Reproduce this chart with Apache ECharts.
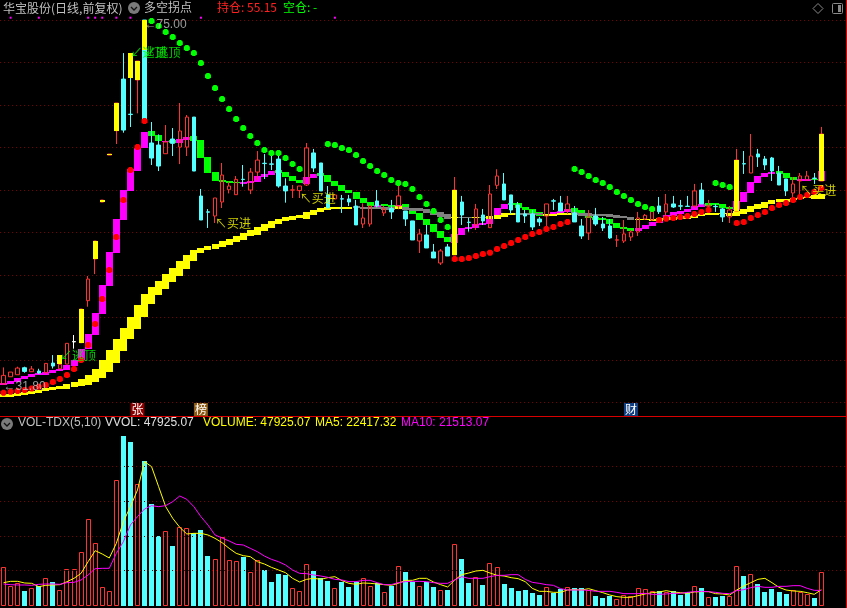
<!DOCTYPE html>
<html><head><meta charset="utf-8">
<style>html,body{margin:0;padding:0;background:#000}#c{width:847px;height:608px}</style>
<script src="https://cdn.jsdelivr.net/npm/echarts@6/dist/echarts.min.js"></script>
</head><body><div id="c"></div>
<script>
const dayLabels = Array.from({length:120},(_,i)=>String(i+1));
// [open, close, low, high]
const candles = [
[32.17,33.19,32.17,34.13],[33.03,33.58,33.03,33.58],[33.27,34.05,33.27,34.21],[34.09,33.66,33.5,34.21],[33.62,33.94,33.62,34.29],
[33.7,33.46,33.35,33.97],[33.5,34.6,33.5,34.6],[34.64,34.29,34.0,35.58],[33.97,34.49,33.97,34.49],[34.52,36.96,34.52,36.96],
[37.13,37.17,36.33,37.94],[37.03,41.0,37.03,41.0],[41.98,44.52,41.27,44.88],[46.88,49.0,45.11,49.0],[53.58,53.82,53.58,53.82],
[59.11,59.23,59.11,59.23],[61.98,65.23,60.41,65.23],[68.05,62.05,61.74,71.11],[63.92,63.88,62.41,71.11],[67.94,70.17,64.02,70.17],
[75,63.31,63.31,75],[60.53,58.76,57.94,63.0],[60.29,57.82,57.23,61.54],[59.27,60.64,59.27,62.64],[61.0,60.49,59.0,62.29],
[60.05,61.94,58.05,65.23],[60.05,63.58,59.0,63.82],[63.58,57.23,57.23,63.58],[54.29,51.47,51.47,55.12],[52.43,52.39,50.53,52.76],
[51.94,54.06,51.12,54.06],[53.59,56.76,52.88,58.18],[55.03,55.47,54.6,55.98],[54.45,56.25,54.45,56.64],[56.27,56.23,55.39,57.94],
[55.0,57.11,54.52,57.58],[57.11,58.52,56.17,59.58],[58.15,58.11,56.29,59.23],[58.07,58.03,57.35,59.11],[58.64,55.47,55.27,59.62],
[55.47,54.89,53.51,56.38],[54.98,55.02,54.06,55.59],[54.93,55.47,54.06,55.47],[55.59,59.95,55.47,60.53],[59.36,57.59,57.12,59.83],
[58.18,54.89,54.89,58.18],[54.42,52.89,52.89,55.47],[53.95,54.42,53.95,54.42],[53.97,53.93,52.3,54.42],[53.95,53.59,53.12,54.42],
[53.12,50.89,50.89,53.83],[51.0,51.71,50.53,53.43],[51.0,53.12,50.69,53.12],[53.71,53.12,52.96,55.0],[52.3,52.77,51.94,53.12],
[52.81,52.42,51.59,53.83],[53.12,54.3,52.73,55.59],[52.53,51.59,50.77,52.53],[51.36,49.12,49.12,51.36],[49.0,49.83,47.59,50.42],
[49.71,48.18,48.18,50.89],[47.71,47.0,47.0,48.65],[46.41,47.83,46.18,48.06],[48.3,47.24,47.24,48.65],[47.36,55.0,47.36,56.53],
[53.59,52.06,50.89,54.3],[51.22,51.18,50.1,51.71],[50.89,52.77,50.3,53.36],[52.06,51.36,50.89,52.77],[50.57,54.53,50.57,55.59],
[55.55,56.65,55.12,57.44],[55.71,53.83,53.83,57.0],[54.42,52.65,52.18,54.42],[53.24,51.24,51.24,53.59],[52.18,51.94,51.12,52.65],
[52.18,50.65,50.3,52.65],[51.59,51.24,50.77,51.83],[51.94,53.36,50.77,53.36],[53.73,53.69,52.65,53.95],[53.47,52.53,52.53,54.3],
[52.65,53.36,52.18,54.3],[52.3,51.24,51.24,53.12],[50.77,49.59,49.24,51.59],[49.94,51.83,49.12,52.65],[51.94,51.0,50.77,52.89],
[51.0,50.53,50.18,51.83],[50.77,49.36,49.24,51.59],[49.1,49.14,48.3,49.71],[49.0,49.83,48.77,51.47],[49.47,50.06,49.0,50.3],
[50.06,51.71,49.59,52.42],[51.59,52.02,51.47,52.18],[51.47,52.65,51.36,52.85],[53.12,52.45,52.18,54.18],[52.42,53.36,51.71,54.53],
[53.36,53.0,52.89,54.3],[53.14,53.1,52.65,53.83],[53.1,53.06,53.0,54.3],[53.12,54.89,52.89,55.71],[55.0,53.36,53.36,55.83],
[53.1,53.14,52.42,53.83],[53.08,53.04,52.42,53.36],[52.77,51.83,51.24,52.89],[51.83,52.65,51.12,53.12],[52.53,58.53,52.53,59.83],
[58.1,58.06,56.89,59.59],[57.0,59.0,57.0,61.59],[59.24,58.89,57.71,59.83],[58.65,57.95,57.36,59.0],[58.77,57.24,56.06,58.89],
[57.0,55.59,55.59,57.83],[56.3,54.89,54.3,56.3],[54.65,55.71,54.18,56.53],[56.06,56.65,54.53,57.0],[56.18,56.65,56.18,57.24],
[56.4,56.36,55.71,57.0],[56.06,61.59,56.06,62.42]
];
const whiteDojiDays = [10];
// [day, top, bottom]
const yellowSticks = [[8,35.58,34.56],[11,41.0,37.03],[13,49.0,46.88],[14,53.82,53.58],[15,59.23,59.11],[16,65.23,61.98],[18,71.11,68.17],[19,70.17,67.94],[20,75,71.47],[64,55.0,47.36],[104,58.53,52.53],[116,61.59,56.06]];
// [top, bottom, kind]
const upperBand = [
[32.33,32.09,'M'],[32.48,32.17,'M'],[32.88,32.45,'M'],[33.11,32.76,'M'],[33.35,33.0,'M'],[33.5,33.27,'M'],[33.58,33.23,'M'],[33.82,33.46,'M'],[33.97,33.7,'M'],[34.41,33.82,'M'],
[35.0,34.29,'M'],[36.29,35.0,'M'],[38.05,36.29,'M'],[40.52,37.94,'M'],[43.82,40.41,'M'],[47.7,43.7,'M'],[51.58,47.58,'M'],[55,51.47,'M'],[57.47,54.88,'M'],[59.98,57.23,'M'],
[61.82,59.94,'M'],[61.94,61.35,'G'],[61.47,60.76,'G'],[60.76,60.6,'M'],[60.88,60.49,'G'],[61.0,60.53,'M'],[61.23,60.88,'M'],[61.35,60.76,'G'],[60.88,58.76,'G'],[58.88,57.0,'G'],
[57.11,56.05,'G'],[56.17,55.94,'G'],[56.05,55.82,'G'],[55.94,55.82,'G'],[55.98,55.7,'M'],[56.05,55.82,'M'],[56.64,55.94,'M'],[56.88,56.52,'M'],[57.23,56.76,'M'],[57.35,57.0,'G'],
[57.12,56.53,'G'],[56.65,56.06,'G'],[56.18,55.83,'G'],[56.53,55.71,'M'],[56.89,56.42,'M'],[57.0,56.65,'G'],[56.77,55.95,'G'],[56.06,55.47,'G'],[55.59,54.89,'G'],[55.0,54.65,'G'],
[54.77,53.95,'G'],[54.06,53.47,'G'],[53.59,53.12,'G'],[53.24,53.0,'M'],[53.36,53.12,'G'],[53.24,53.0,'G'],[53.24,53.0,'M'],[53.36,52.89,'G'],[52.73,52.18,'G'],[52.3,51.47,'G'],
[51.59,50.89,'G'],[51.0,50.06,'G'],[50.18,49.36,'G'],[49.47,48.89,'G'],[49.79,48.77,'M'],[50.53,49.71,'M'],[50.65,50.42,'M'],[51.0,50.53,'M'],[51.12,50.89,'M'],[51.59,51.0,'M'],
[52.89,52.06,'M'],[53.36,52.77,'M'],[53.47,53.24,'G'],[53.43,52.89,'G'],[53.0,52.65,'G'],[52.77,52.3,'G'],[52.42,51.94,'G'],[52.14,51.87,'M'],[52.42,52.18,'M'],[52.53,52.3,'M'],
[52.77,52.45,'M'],[52.85,52.42,'G'],[52.65,52.3,'G'],[52.06,51.71,'G'],[51.83,51.47,'G'],[51.75,51.47,'G'],[51.59,51.0,'G'],[51.12,50.53,'G'],[50.65,50.38,'G'],[50.53,50.18,'G'],
[50.53,50.18,'M'],[50.89,50.42,'M'],[51.24,50.77,'M'],[51.59,51.12,'M'],[52.06,51.59,'M'],[52.42,51.94,'M'],[52.53,52.18,'M'],[52.77,52.42,'M'],[53.12,52.65,'M'],[53.36,53.0,'M'],
[53.43,53.12,'G'],[53.47,53.2,'G'],[53.36,52.89,'G'],[53.0,52.77,'G'],[53.71,52.65,'M'],[54.77,53.59,'M'],[55.95,54.65,'M'],[56.65,55.83,'M'],[57.0,56.53,'M'],[57.12,56.89,'M'],
[57.24,56.89,'G'],[57.0,56.42,'G'],[56.53,56.18,'G'],[56.3,56.06,'M'],[56.3,56.06,'M'],[56.3,56.18,'G'],[57.24,56.06,'M']
];
const lowerBand = [
[30.96,30.64,'Y'],[31.03,30.68,'Y'],[31.15,30.76,'Y'],[31.27,30.96,'Y'],[31.39,31.07,'Y'],[31.46,31.15,'Y'],[31.66,31.27,'Y'],[31.78,31.46,'Y'],[31.97,31.58,'Y'],[32.17,31.58,'Y'],
[32.41,31.86,'Y'],[32.76,31.97,'Y'],[33.23,32.05,'Y'],[33.94,32.45,'Y'],[35.0,32.92,'Y'],[36.17,33.58,'Y'],[37.47,34.64,'Y'],[38.76,36.05,'Y'],[40.05,37.47,'Y'],[41.47,38.64,'Y'],
[42.76,40.05,'Y'],[43.58,41.58,'Y'],[44.29,42.64,'Y'],[45.11,43.35,'Y'],[45.82,44.17,'Y'],[46.64,44.88,'Y'],[47.35,45.7,'Y'],[47.94,46.64,'Y'],[48.17,47.58,'Y'],[48.41,47.94,'Y'],
[48.64,48.05,'Y'],[49.0,48.29,'Y'],[49.23,48.53,'Y'],[49.58,48.88,'Y'],[49.94,49.11,'Y'],[50.29,49.58,'Y'],[50.64,49.7,'Y'],[51.0,50.17,'Y'],[51.35,50.53,'Y'],[51.58,51.0,'Y'],
[51.79,51.36,'Y'],[51.94,51.51,'Y'],[52.06,51.71,'Y'],[52.42,51.59,'Y'],[52.65,52.06,'Y'],[52.89,52.42,'Y'],[52.96,52.65,'Y'],[53.0,52.77,'Y'],[53.0,52.77,'Y'],[53.0,52.77,'Y'],
[53.12,52.89,'S'],[53.0,52.77,'S'],[53.0,52.77,'S'],[53.0,52.77,'S'],[53.04,52.65,'S'],[53.0,52.69,'S'],[53.12,52.73,'Y'],[52.96,52.65,'S'],[52.89,52.57,'S'],[52.85,52.49,'S'],
[52.73,52.26,'S'],[52.57,52.06,'S'],[52.42,51.79,'S'],[52.18,51.59,'S'],[51.79,51.67,'Y'],[51.83,51.71,'S'],[51.83,51.71,'S'],[51.83,51.71,'Y'],[51.83,51.71,'S'],[51.94,51.55,'Y'],
[52.06,51.59,'Y'],[52.26,51.83,'Y'],[52.3,52.06,'Y'],[52.34,52.06,'S'],[52.26,52.06,'S'],[52.26,52.06,'S'],[52.26,52.06,'S'],[52.18,51.94,'Y'],[52.18,51.94,'Y'],[52.3,52.06,'Y'],
[52.34,52.06,'Y'],[52.42,52.06,'S'],[52.34,51.98,'S'],[52.26,51.94,'S'],[52.18,51.94,'S'],[52.14,51.91,'S'],[52.18,51.87,'S'],[52.06,51.75,'S'],[51.94,51.67,'S'],[51.83,51.47,'S'],
[51.63,51.51,'Y'],[51.63,51.51,'Y'],[51.63,51.4,'Y'],[51.71,51.36,'Y'],[51.79,51.47,'Y'],[51.87,51.55,'Y'],[51.94,51.63,'Y'],[51.94,51.63,'Y'],[52.06,51.75,'Y'],[52.18,51.94,'Y'],
[52.26,52.02,'Y'],[52.26,52.06,'Y'],[52.26,52.1,'Y'],[52.34,51.94,'Y'],[52.57,51.94,'Y'],[52.73,52.14,'Y'],[53.12,52.42,'Y'],[53.36,52.73,'Y'],[53.63,52.96,'Y'],[53.83,53.36,'Y'],
[53.95,53.55,'Y'],[53.98,53.67,'Y'],[54.02,53.79,'Y'],[54.14,53.91,'Y'],[54.26,53.98,'Y'],[54.42,53.98,'Y'],[54.53,53.91,'Y']
];
// [first day, prices of the run]
const redDotRuns = [
[0,[31.15,31.27,31.35,31.46,31.66,31.86,32.05,32.41,32.76,33.23,33.94,35.0,36.76,39.23,42.17,45.58,49.47,53.82,57.35,60.05,63.11]],
[64,[46.89,46.89,47.0,47.24,47.47,47.63,48.06,48.41,48.77,49.12,49.47,49.83,50.06,50.42,50.65,51.0,51.24]],
[93,[51.47,51.63,51.71,51.83,51.94,52.18,52.42,52.65]],
[104,[51.12,51.24,51.71,52.06,52.42,52.89,53.24,53.47,53.83,54.18,54.42,54.77,55.24]]
];
const greenDotRuns = [
[21,[74.88,74.29,73.58,73.0,72.29,71.7,71.11,69.94,68.41,67.0,65.7,64.53,63.35,62.29,61.35,60.52,59.7,59.35,59.35,58.77,58.06,57.47]],
[46,[60.42,60.3,59.95,59.71,59.12,58.42,57.83,57.24,56.77,56.18,55.83,55.71,55.12,54.18,53.36,52.53,51.47,50.65]],
[81,[57.47,57.12,56.65,56.18,55.83,55.36,54.77,54.3,53.83,53.36,53.0,52.77]],
[101,[55.83,55.59,55.36]]
];
const topMarkDays = [1,5,12,13,14,16,18,28,47];
const topMarkPrice = 75.27;
const buyLabels = [[30,51.12],[42,54.06],[113,55.0]];
const escapeLabels = [[18,71.15],[20,71.15],[8,35.59]];
const priceNotes = [[20,74.41,'←75.00'],[0,31.82,'←31.80']];
const eventBadges = [[19,'张','#8b0000'],[28,'榜','#8b5a14'],[89,'财','#0f3f80']];
const badgePrice = 29.18;
const volumes = [54800,27400,32200,20600,24500,27400,38900,33200,21600,51900,51900,76400,124000,89400,26000,20200,180200,244100,235500,174900,208100,146100,99900,106700,85500,112500,111000,103800,108600,71100,66300,98100,64900,63400,69600,47600,64900,50900,33600,45100,43700,24500,20200,59100,49500,39400,35000,24500,33600,26400,33600,38900,27400,32200,18700,27800,56200,48000,33600,27400,33600,26400,21600,22100,88000,66800,32200,40400,29300,60600,54800,30700,24900,20600,22100,17700,14900,26000,17700,23500,26000,24900,24900,21600,13400,10500,13400,8700,14400,13000,24500,23100,20200,20200,18700,20200,14900,18700,27400,24500,11500,11500,13000,13000,56200,42300,44700,30300,18700,23100,18700,15900,21600,18700,15900,10100,47925.07];
const ma5 = [32640,34560,34560,32160,31690,26870,28800,29280,29760,34080,38890,46100,62920,78790,73980,68210,89360,120600,142240,166280,207140,199930,171080,142240,125420,112440,102820,103780,103780,101380,96570,90320,82150,74940,71580,70140,62920,59560,54750,50910,47060,38890,33600,37450,38890,37450,39850,41290,35520,31680,30240,32160,31680,30720,29760,28800,31680,36000,36000,38890,38890,33600,29760,26390,36490,44180,46580,49460,50430,46580,43210,42250,39850,38410,34080,24470,20140,20140,18700,18700,22060,22550,22060,23990,21100,18220,14850,12450,11490,11490,13890,16300,18220,19180,21100,19180,18220,17260,19180,19660,19660,16780,16300,14850,22060,27830,32640,37450,38890,32640,25910,22060,20620,20140,18220,15810,22417.32];
const ma10 = [30720,29760,29280,29280,28800,30240,30720,30720,30240,32640,33120,36490,43700,52830,53310,53310,74940,91770,115800,127820,138880,143680,142240,143680,149450,157620,152810,142240,127820,115800,101380,97050,92730,87920,86960,82150,77340,71100,66290,62920,58120,50910,46100,45620,43700,42250,40330,37450,36490,34080,34080,36000,36000,32640,29760,29760,32640,34080,34560,34560,34080,32640,31680,31680,36490,41290,38890,38890,38890,41290,43210,43210,44180,44180,37450,33120,31680,29760,28800,23990,22060,22060,22060,21580,20140,20140,20140,18700,16780,16780,16780,17260,15810,15810,16300,17260,17260,18700,19660,20140,19660,18700,17260,16780,21100,22550,25430,27350,25910,25910,27350,27350,28320,28320,24470,21580,21513.07];
const volGuideValues = [50000,100000,150000,200000];

const RED='#ff3232', CYAN='#54ffff', YEL='#ffff00', GRN='#00ff00', MAG='#ff00ff', GRY='#808080';
const GRIDC='#7a0000', EDGE='#d80000';
const DOT='path://M2,0L5,0L7,2L7,5L5,7L2,7L0,5L0,2Z';
const kindColor = {M:MAG,G:GRN,Y:YEL,S:GRY};
const runsToPoints = runs => runs.flatMap(r => r[1].map((p,k)=>[r[0]+k,p]));
const CJK = '"Noto Sans CJK SC","Liberation Sans",sans-serif';
const LAT = '"Liberation Sans","Noto Sans CJK SC",sans-serif';

function bandSeries(name, rows){
  return {name,type:'custom',xAxisIndex:0,yAxisIndex:0,z:2,clip:false,silent:true,
    data:rows.map((r,i)=>[i,r[0],r[1],r[2]]),
    encode:{x:0,y:[1,2]},
    renderItem:(params,api)=>{
      const a=api.coord([api.value(0),api.value(1)]), b=api.coord([api.value(0),api.value(2)]);
      const w=api.size([1,0])[0];
      return {type:'rect',shape:{x:Math.round(a[0]-w/2),y:Math.round(a[1]),width:7,height:Math.max(1,Math.round(b[1]-a[1]))},
        style:{fill:kindColor[rows[params.dataIndex][2]]}};
    }};
}
function labelSeries(name, rows, color, fontFamily){
  return {name,type:'scatter',xAxisIndex:0,yAxisIndex:0,z:8,clip:false,silent:true,symbol:'rect',symbolSize:0,
    data:rows.map(r=>({value:[r[0],r[1]],label:{formatter:r[2]}})),
    label:{show:true,position:'right',distance:0,color,fontSize:12,fontFamily}};
}
const option = {
  animation:false, backgroundColor:'#000',
  grid:[
    {left:0,width:846,top:20,height:382.5},
    {left:0,width:846,top:425,height:180.3}
  ],
  xAxis:[
    {type:'category',gridIndex:0,data:dayLabels,boundaryGap:true,axisLine:{show:false},axisTick:{show:false},axisLabel:{show:false},splitLine:{show:false}},
    {type:'category',gridIndex:1,data:dayLabels,boundaryGap:true,axisLine:{show:false},axisTick:{show:false},axisLabel:{show:false},splitLine:{show:false}}
  ],
  yAxis:[
    {type:'value',gridIndex:0,min:30,max:75,interval:5,axisLine:{show:false},axisTick:{show:false},axisLabel:{show:false},
      splitLine:{show:true,lineStyle:{color:GRIDC,width:1,type:[1,3]}}},
    {type:'value',gridIndex:1,min:0,max:260000,axisLine:{show:false},axisTick:{show:false},axisLabel:{show:false},splitLine:{show:false}}
  ],
  series:[
    bandSeries('持仓带',upperBand),
    bandSeries('多空线',lowerBand),
    {name:'K线',type:'candlestick',xAxisIndex:0,yAxisIndex:0,z:3,barWidth:4,clip:false,
      data:candles.map((c,i)=> whiteDojiDays.includes(i)
        ? {value:c,itemStyle:{color:'#fff',color0:'#fff',borderColor:'#fff',borderColor0:'#fff'}} : c),
      itemStyle:{color:'transparent',color0:CYAN,borderColor:RED,borderColor0:CYAN,borderWidth:1}},
    {name:'黄柱',type:'custom',xAxisIndex:0,yAxisIndex:0,z:4,clip:false,silent:true,
      data:yellowSticks,encode:{x:0,y:[1,2]},
      renderItem:(params,api)=>{
        const a=api.coord([api.value(0),api.value(1)]), b=api.coord([api.value(0),api.value(2)]);
        return {type:'rect',shape:{x:Math.round(a[0]-2.5),y:Math.round(a[1]),width:5,height:Math.max(1,Math.round(b[1]-a[1]))},style:{fill:YEL}};
      }},
    {name:'绿点',type:'scatter',xAxisIndex:0,yAxisIndex:0,z:6,clip:false,silent:true,symbol:DOT,symbolSize:6,
      data:runsToPoints(greenDotRuns),itemStyle:{color:GRN,opacity:1}},
    {name:'红点',type:'scatter',xAxisIndex:0,yAxisIndex:0,z:6,clip:false,silent:true,symbol:DOT,symbolSize:6,
      data:runsToPoints(redDotRuns),itemStyle:{color:'#ff0000',opacity:1}},
    {name:'顶部标记',type:'scatter',xAxisIndex:0,yAxisIndex:0,z:6,clip:false,silent:true,symbol:'rect',symbolSize:2,
      data:topMarkDays.map(d=>[d,topMarkPrice]),itemStyle:{color:MAG,opacity:1}},
    labelSeries('买进',buyLabels.map(r=>[r[0],r[1],'↖买进']),YEL,CJK),
    labelSeries('逃顶',escapeLabels.map(r=>[r[0],r[1],'↙逃顶']),GRN,CJK),
    labelSeries('价标',priceNotes,'#c0c0c0',LAT),
    {name:'事件',type:'scatter',xAxisIndex:0,yAxisIndex:0,z:7,clip:false,silent:true,symbol:'rect',symbolSize:[14,13],
      data:eventBadges.map(b=>({value:[b[0],badgePrice],itemStyle:{color:b[2],opacity:1},label:{formatter:b[1]}})),
      label:{show:true,position:'inside',color:'#fff',fontSize:12,fontFamily:CJK}},
    {name:'VOLUME',type:'custom',xAxisIndex:1,yAxisIndex:1,z:3,silent:true,
      data:volumes.map((v,i)=>[i,v]),encode:{x:0,y:1},
      renderItem:(params,api)=>{
        const i=api.value(0), top=api.coord([i,api.value(1)]), base=api.coord([i,0]);
        const left=Math.round(top[0]-2.5), t=Math.round(top[1]), b=Math.round(base[1]);
        const up=candles[i][1]>=candles[i][0];
        return up
          ? {type:'rect',shape:{x:left+0.5,y:t+0.5,width:4,height:b-t},style:{fill:'none',stroke:RED,lineWidth:1}}
          : {type:'rect',shape:{x:left,y:t,width:5,height:b-t+1},style:{fill:CYAN}};
      }},
    {name:'MA5',type:'line',xAxisIndex:1,yAxisIndex:1,z:5,data:ma5,symbol:'none',silent:true,lineStyle:{color:YEL,width:1},
      markLine:{silent:true,symbol:'none',label:{show:false},animation:false,
        lineStyle:{color:GRIDC,width:1,type:[1,3]},data:volGuideValues.map(v=>({yAxis:v}))}},
    {name:'MA10',type:'line',xAxisIndex:1,yAxisIndex:1,z:5,data:ma10,symbol:'none',silent:true,lineStyle:{color:MAG,width:1}}
  ],
  graphic:[
    {type:'line',z:20,shape:{x1:0,y1:416.5,x2:846,y2:416.5},style:{stroke:EDGE,lineWidth:1}},
    {type:'line',z:20,shape:{x1:846.5,y1:0,x2:846.5,y2:608},style:{stroke:EDGE,lineWidth:1}},
    {type:'text',z:20,x:3,y:2,style:{text:'华宝股份(日线,前复权)',fill:'#c0c0c0',font:'12px '+CJK}},
    {type:'circle',z:20,shape:{cx:134,cy:8,r:6},style:{fill:'#7a7a7a'}},
    {type:'polyline',z:21,shape:{points:[[131,7],[134,10],[137,7]]},style:{stroke:'#111',lineWidth:1.3,fill:'none'}},
    {type:'text',z:20,x:144,y:1,style:{text:'多空拐点',fill:'#c0c0c0',font:'12px '+CJK}},
    {type:'text',z:20,x:217,y:1,style:{text:'持仓: 55.15',fill:'#ff2020',font:'12px '+CJK}},
    {type:'text',z:20,x:283,y:1,style:{text:'空仓: -',fill:GRN,font:'12px '+CJK}},
    {type:'polygon',z:20,shape:{points:[[818,3.5],[823,8.5],[818,13.5],[813,8.5]]},style:{stroke:'#8a8a8a',fill:'none',lineWidth:1}},
    {type:'rect',z:20,shape:{x:832.5,y:3.5,width:10,height:10,r:1},style:{stroke:'#8a8a8a',fill:'none',lineWidth:1}},
    {type:'rect',z:20,shape:{x:838,y:5,width:3,height:7},style:{fill:'#8a8a8a'}},
    {type:'circle',z:20,shape:{cx:7,cy:424,r:6},style:{fill:'#7a7a7a'}},
    {type:'polyline',z:21,shape:{points:[[4,423],[7,426],[10,423]]},style:{stroke:'#111',lineWidth:1.3,fill:'none'}},
    {type:'text',z:20,x:18,y:417,style:{text:'VOL-TDX(5,10)',fill:'#c0c0c0',font:'12px '+LAT}},
    {type:'text',z:20,x:105,y:417,style:{text:'VVOL: 47925.07',fill:'#e0e0e0',font:'12px '+LAT}},
    {type:'text',z:20,x:203,y:417,style:{text:'VOLUME: 47925.07',fill:YEL,font:'12px '+LAT}},
    {type:'text',z:20,x:315,y:417,style:{text:'MA5: 22417.32',fill:YEL,font:'12px '+LAT}},
    {type:'text',z:20,x:401,y:417,style:{text:'MA10: 21513.07',fill:MAG,font:'12px '+LAT}}
  ]
};
echarts.init(document.getElementById('c'),null,{renderer:'canvas'}).setOption(option);
</script></body></html>
